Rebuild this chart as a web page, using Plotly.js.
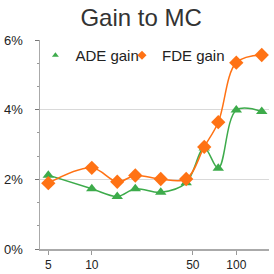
<!DOCTYPE html>
<html>
<head>
<meta charset="utf-8">
<script src="https://cdn.plot.ly/plotly-3.0.1.min.js"></script>
<style>html,body{margin:0;padding:0;background:#fff;}#chart{width:274px;height:274px;}</style>
</head>
<body>
<div id="chart"></div>
<script>
var steps = [5, 10, 15, 20, 30, 45, 60, 75, 100, 150];
var adeGain = [0.0212, 0.0173, 0.0151, 0.0173, 0.0163, 0.0190, 0.0290, 0.0232, 0.0399, 0.0395];
var fdeGain = [0.0189, 0.0233, 0.0193, 0.0211, 0.0201, 0.0201, 0.0293, 0.0364, 0.0535, 0.0557];
var xTicks = [5, 10, 50, 100];
var yTicks = [0, 0.02, 0.04, 0.06];
var seriesNames = ['ADE gain', 'FDE gain'];

var green = '#3dab4b';
var orange = '#ff7214';

var traces = [
  {x: steps, y: adeGain, name: seriesNames[0], mode: 'lines+markers', showlegend: false,
   line: {color: green, width: 1.5, shape: 'spline', smoothing: 1},
   marker: {symbol: 'triangle-up', size: 10, color: green}},
  {x: steps, y: fdeGain, name: seriesNames[1], mode: 'lines+markers', showlegend: false,
   line: {color: orange, width: 1.5, shape: 'spline', smoothing: 1},
   marker: {symbol: 'diamond', size: 11, color: orange}},
  {x: [null], y: [null], name: seriesNames[0], mode: 'markers', legend: 'legend',
   marker: {symbol: 'triangle-up', size: 6, color: green}},
  {x: [null], y: [null], name: seriesNames[1], mode: 'markers', legend: 'legend2',
   marker: {symbol: 'diamond', size: 7, color: orange}}
];

var font = 'Liberation Sans, Arial, sans-serif';
var layout = {
  width: 274, height: 274,
  margin: {l: 40, r: 5, t: 40, b: 25},
  paper_bgcolor: '#fff', plot_bgcolor: '#fff',
  font: {family: font, color: '#222'},
  title: {text: 'Gain to MC', font: {size: 24, color: '#333', family: font}, x: 0.515, xanchor: 'center', y: 0.935, yanchor: 'middle'},
  xaxis: {
    type: 'log', range: [0.6415, 2.2263],
    tickvals: xTicks, ticktext: xTicks.map(String),
    ticks: 'outside', ticklen: 4, tickcolor: '#999', tickwidth: 1,
    showline: true, linecolor: '#aaa', linewidth: 1.5,
    showgrid: false, zeroline: false,
    tickfont: {size: 12, color: '#222', family: font}
  },
  yaxis: {
    range: [0, 0.06], tickvals: yTicks, tickformat: '.0%',
    ticks: 'outside', ticklen: 4, tickcolor: '#777', tickwidth: 1,
    ticklabelstandoff: 9,
    minor: {dtick: 0.02/3, ticks: 'outside', ticklen: 2, tickcolor: '#999', showgrid: false},
    showline: true, linecolor: '#aaa', linewidth: 1.5,
    showgrid: true, gridcolor: '#d9d9d9', gridwidth: 1, zeroline: false,
    tickfont: {size: 13, color: '#222', family: font}
  },
  legend: {x: -0.02, y: 1.005, xanchor: 'left', yanchor: 'top', orientation: 'h', bgcolor: 'rgba(0,0,0,0)',
           font: {size: 15, color: '#222', family: font}, itemwidth: 30},
  legend2: {x: 0.358, y: 1.005, xanchor: 'left', yanchor: 'top', orientation: 'h', bgcolor: 'rgba(0,0,0,0)',
           font: {size: 15, color: '#222', family: font}, itemwidth: 30}
};

Plotly.newPlot('chart', traces, layout, {displayModeBar: false, staticPlot: true});
</script>
</body>
</html>
